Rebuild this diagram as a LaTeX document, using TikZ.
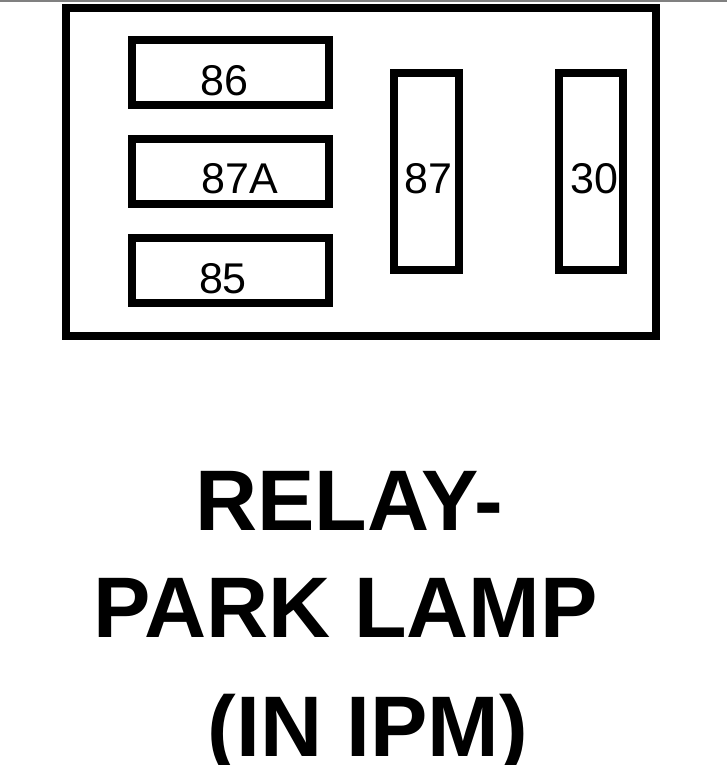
\documentclass[tikz,border=0pt]{standalone}
\usepackage{fontspec}
\setmainfont{Liberation Sans}
\usetikzlibrary{positioning}

\tikzset{
  pin/.style={draw, line width=8pt, outer sep=0pt, inner sep=0pt},
  flat pin/.style={pin, minimum width=197pt, minimum height=65pt},
  tall pin/.style={pin, minimum width=64.5pt, minimum height=196pt},
  pin label/.style={font=\fontsize{43}{43}\selectfont, inner sep=0pt},
  title/.style={font=\fontsize{86}{86}\selectfont\bfseries, anchor=base, inner sep=0pt}
}

\begin{document}
\begin{tikzpicture}[x=1pt, y=-1pt, node distance=33.5pt]
  \useasboundingbox (0,0) rectangle (727,765);
  \draw[line width=2pt, gray] (0,1) -- (727,1);

  % housing
  \node[pin, minimum width=590pt, minimum height=327.5pt] (ipm) at (361,172.25) {};

  % terminals
  \node[flat pin, label={[pin label, xshift=9.5pt, yshift=-7pt]center:87A}] (p87A) at (230,171.5) {};
  \node[flat pin, label={[pin label, xshift=-5.5pt, yshift=-8pt]center:86}]  (p86) [above=of p87A] {};
  \node[flat pin, label={[pin label, xshift=-7pt, yshift=-8.5pt]center:85}]  (p85) [below=of p87A] {};
  \node[tall pin, label={[pin label, xshift=2.5pt, yshift=-7pt]center:87}]   (p87) [right=65.5pt of p87A] {};
  \node[tall pin, label={[pin label, xshift=3.5pt, yshift=-7pt]center:30}]   (p30) [right=100pt of p87] {};

  % caption
  \node[title] (cap1) at (349,530)   {RELAY-};
  \node[title] (cap2) at (345.5,637.5) {PARK LAMP};
  \node[title] (cap3) at (368,756)   {(IN IPM)};
\end{tikzpicture}
\end{document}
